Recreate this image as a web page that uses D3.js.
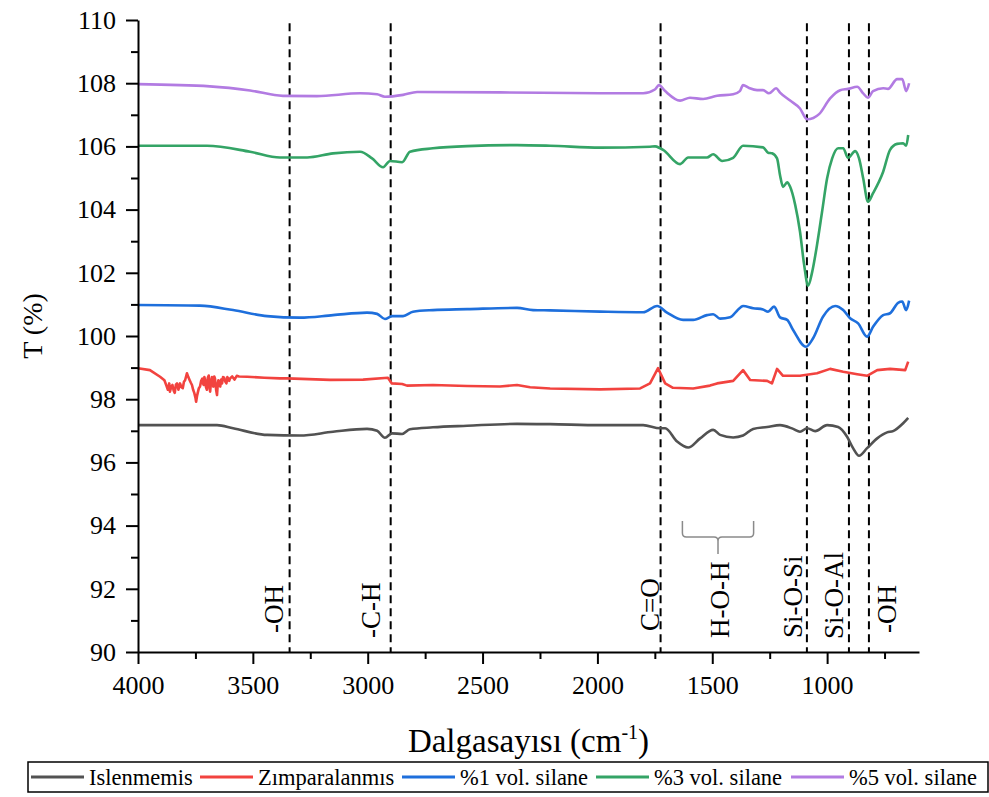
<!DOCTYPE html>
<html>
<head>
<meta charset="utf-8">
<script src="https://cdn.jsdelivr.net/npm/d3@7"></script>
<style>
  body { margin: 0; background: #fff; }
  svg { display: block; }
  text { font-family: "Liberation Serif", "Times New Roman", serif; fill: #000; }
</style>
</head>
<body>
<svg id="chart" width="989" height="797"></svg>
<script>
// FTIR spectra: [wavenumber (cm-1), transmittance (%)]
const islenmemis = [
  [4000,97.18],[3656,97.18],[3586,97.08],[3438,96.87],[3295,96.85],[3151,96.97],[3003,97.06],
  [2959,97.0],[2925,96.78],[2894,96.92],[2850,96.90],[2816,97.05],[2716,97.11],[2567,97.16],
  [2350,97.22],[2206,97.21],[1988,97.18],[1801,97.18],[1727,97.08],[1705,97.08],[1653,96.66],
  [1605,96.47],[1553,96.76],[1496,97.03],[1466,96.87],[1409,96.79],[1366,96.85],[1322,97.06],
  [1261,97.12],[1205,97.18],[1148,97.06],[1118,96.97],[1087,97.08],[1052,96.99],[1000,97.18],
  [952,97.12],[913,96.81],[887,96.45],[861,96.21],[826,96.45],[782,96.76],[739,96.95],
  [713,96.99],[669,97.24],[647,97.41]
];
const zimparalanmis = [
  [4000,98.98],[3948,98.92],[3904,98.71],[3885,98.6],[3876,98.42],[3870,98.3],[3864,98.5],
  [3861,98.24],[3855,98.4],[3850,98.45],[3845,98.28],[3840,98.2],[3835,98.46],[3830,98.5],
  [3824,98.3],[3817,98.5],[3811,98.38],[3805,98.35],[3800,98.55],[3795,98.6],[3787,98.82],
  [3781,98.7],[3775,98.6],[3770,98.52],[3765,98.45],[3760,98.3],[3755,98.2],[3750,98.05],
  [3747,97.92],[3743,98.1],[3740,98.2],[3735,98.35],[3730,98.40],[3725,98.58],[3720,98.65],
  [3717,98.5],[3714,98.45],[3711,98.7],[3708,98.61],[3704,98.38],[3700,98.3],[3696,98.68],
  [3692,98.75],[3689,98.4],[3686,98.24],[3682,98.55],[3678,98.7],[3675,98.48],[3672,98.4],
  [3668,98.72],[3665,98.66],[3662,98.45],[3660,98.3],[3656,98.13],[3653,98.45],[3650,98.6],
  [3646,98.52],[3642,98.4],[3638,98.62],[3634,98.5],[3630,98.7],[3625,98.68],[3620,98.56],
  [3615,98.5],[3611,98.7],[3607,98.65],[3603,98.58],[3599,98.66],[3590,98.72],[3580,98.62],
  [3570,98.74],[3560,98.72],[3525,98.71],[3450,98.68],[3382,98.66],[3351,98.66],[3164,98.61],
  [3020,98.62],[2912,98.68],[2895,98.5],[2850,98.48],[2829,98.43],[2716,98.45],[2567,98.42],
  [2424,98.40],[2350,98.45],[2293,98.38],[2206,98.34],[1988,98.31],[1814,98.34],[1771,98.5],
  [1736,98.98],[1705,98.5],[1671,98.36],[1583,98.34],[1510,98.43],[1479,98.5],[1409,98.58],
  [1366,98.92],[1335,98.61],[1261,98.58],[1240,98.5],[1218,98.96],[1192,98.74],[1118,98.74],
  [1044,98.82],[987,98.96],[930,98.87],[869,98.79],[826,98.74],[782,98.92],[726,98.96],
  [660,98.92],[647,99.19]
];
const silane1 = [
  [4000,100.98],[3730,100.96],[3586,100.82],[3438,100.63],[3295,100.58],[3151,100.66],[3003,100.74],
  [2959,100.70],[2925,100.54],[2894,100.63],[2846,100.63],[2803,100.77],[2716,100.82],[2567,100.85],
  [2350,100.89],[2280,100.82],[2206,100.81],[1988,100.77],[1801,100.75],[1740,100.95],[1697,100.74],
  [1627,100.51],[1583,100.51],[1523,100.66],[1496,100.69],[1466,100.55],[1422,100.59],[1392,100.80],
  [1366,100.95],[1322,100.88],[1279,100.84],[1257,100.77],[1231,100.93],[1205,100.59],[1174,100.51],
  [1148,100.19],[1092,99.66],[1061,99.93],[1018,100.61],[965,100.95],[930,100.82],[900,100.56],
  [865,100.40],[826,99.98],[800,100.29],[756,100.66],[726,100.72],[691,101.05],[673,101.09],
  [656,100.82],[643,101.12]
];
const silane3 = [
  [4000,106.02],[3700,106.02],[3512,105.83],[3382,105.65],[3264,105.65],[3151,105.78],[3033,105.83],
  [2981,105.62],[2933,105.34],[2903,105.54],[2850,105.50],[2816,105.83],[2716,105.94],[2567,106.01],
  [2350,106.04],[2206,106.02],[1988,105.96],[1771,105.99],[1749,106.0],[1727,105.94],[1714,105.89],
  [1640,105.44],[1605,105.65],[1523,105.65],[1496,105.75],[1457,105.54],[1409,105.64],[1366,106.02],
  [1279,105.97],[1257,105.80],[1240,105.78],[1218,105.62],[1205,105.09],[1192,104.72],[1174,104.86],
  [1161,104.72],[1139,104.15],[1118,103.3],[1100,102.25],[1083,101.59],[1065,102.03],[1044,102.88],
  [1022,103.93],[1000,104.99],[978,105.62],[952,105.94],[930,105.94],[909,105.64],[878,105.85],
  [861,105.62],[843,104.99],[822,104.25],[800,104.52],[756,105.2],[726,105.89],[695,106.08],
  [669,106.1],[656,106.02],[647,106.36]
];
const silane5 = [
  [4000,107.97],[3687,107.90],[3512,107.77],[3369,107.6],[3221,107.59],[3033,107.68],[2959,107.65],
  [2925,107.57],[2846,107.63],[2785,107.72],[2424,107.71],[1988,107.68],[1801,107.68],[1750,107.80],
  [1732,107.94],[1705,107.75],[1640,107.45],[1597,107.54],[1540,107.50],[1479,107.60],[1409,107.65],
  [1380,107.75],[1366,107.94],[1340,107.85],[1305,107.78],[1279,107.78],[1253,107.68],[1222,107.84],
  [1205,107.70],[1161,107.45],[1118,107.20],[1087,106.86],[1060,106.90],[1035,107.02],[987,107.52],
  [943,107.78],[909,107.82],[869,107.89],[843,107.68],[822,107.54],[800,107.75],[756,107.84],
  [735,107.82],[695,108.13],[673,108.13],[656,107.75],[643,108.0]
];

const seriesNames = ["Islenmemis", "Zımparalanmıs", "%1 vol. silane", "%3 vol. silane", "%5 vol. silane"];
const seriesData = [islenmemis, zimparalanmis, silane1, silane3, silane5];
const seriesColors = ["#525252", "#f2433f", "#1e6fdc", "#34a466", "#b27be2"];

// band assignments (dashed guides) and their labels
const bandLines = [3340, 2900, 1725, 1088, 905, 818];
const bandLabels = ["-OH", "-C-H", "C=O", "H-O-H", "Si-O-Si", "Si-O-Al", "-OH"];
const bandLabelWn = [3408, 2985, 1771, 1466, 1148, 970, 739];
const bracketWn = [1630, 1320];

const xTicks = [4000, 3500, 3000, 2500, 2000, 1500, 1000];
const xMinor = [3750, 3250, 2750, 2250, 1750, 1250, 750];
const yTicks = [90, 92, 94, 96, 98, 100, 102, 104, 106, 108, 110];
const yMinor = [91, 93, 95, 97, 99, 101, 103, 105, 107, 109];

const svg = d3.select("#chart");
svg.append("rect").attr("width", 989).attr("height", 797).attr("fill", "#fff");

const x = d3.scaleLinear().domain([4000, 600]).range([138, 919]);
const y = d3.scaleLinear().domain([90, 110]).range([652, 20]);

// dashed band guides
svg.append("g").selectAll("line").data(bandLines).join("line")
  .attr("x1", d => x(d)).attr("x2", d => x(d))
  .attr("y1", y(109.9)).attr("y2", y(90))
  .attr("stroke", "#000").attr("stroke-width", 2).attr("stroke-dasharray", "8,5");

// spectra
const line = d3.line().x(d => x(d[0])).y(d => y(d[1]));
seriesData.forEach((data, i) => {
  svg.append("path").datum(data)
    .attr("fill", "none")
    .attr("stroke", seriesColors[i])
    .attr("stroke-width", 2.6)
    .attr("stroke-linejoin", "round")
    .attr("d", line.curve(i === 1 ? d3.curveLinear : d3.curveMonotoneX));
});

// axes
const serif = "'Liberation Serif', 'Times New Roman', serif";
const yAxis = svg.append("g").attr("transform", `translate(${x(4000)},0)`)
  .call(d3.axisLeft(y).tickValues(yTicks).tickSize(12).tickSizeOuter(0).tickPadding(10).tickFormat(d3.format("d")));
svg.append("g").attr("transform", `translate(${x(4000)},0)`)
  .call(d3.axisLeft(y).tickValues(yMinor).tickSize(7).tickFormat(""))
  .call(g => g.select(".domain").remove());
const xAxis = svg.append("g").attr("transform", `translate(0,${y(90)})`)
  .call(d3.axisBottom(x).tickValues(xTicks).tickSize(12).tickSizeOuter(0).tickPadding(12).tickFormat(d3.format("d")));
svg.append("g").attr("transform", `translate(0,${y(90)})`)
  .call(d3.axisBottom(x).tickValues(xMinor).tickSize(7).tickFormat(""))
  .call(g => g.select(".domain").remove());

svg.selectAll(".tick line, .domain").attr("stroke", "#000").attr("stroke-width", 2);
[yAxis, xAxis].forEach(g => g.attr("font-family", serif).selectAll("text")
  .style("font-family", serif).style("font-size", "26px").attr("fill", "#000"));

// axis titles
const xTitle = svg.append("text")
  .attr("x", (x(4000) + x(600)) / 2).attr("y", 752)
  .attr("text-anchor", "middle").style("font-size", "33px");
xTitle.append("tspan").text("Dalgasayısı (cm");
xTitle.append("tspan").attr("dy", -13).style("font-size", "20px").text("-1");
xTitle.append("tspan").attr("dy", 13).text(")");

svg.append("text")
  .attr("transform", `translate(42,${(y(90) + y(110)) / 2 - 10}) rotate(-90)`)
  .attr("text-anchor", "middle").style("font-size", "28px").text("T (%)");

// band labels, rotated
const bandLabelLift = [19, 14, 21, 14, 14, 13, 19];
svg.append("g").selectAll("text").data(bandLabels).join("text")
  .attr("transform", (d, i) => `translate(${x(bandLabelWn[i])},${y(90) - bandLabelLift[i]}) rotate(-90)`)
  .attr("dominant-baseline", "central")
  .style("font-size", "27px")
  .text(d => d);

// brace over the H-O-H region
const bx0 = x(bracketWn[0]), bx1 = x(bracketWn[1]), bxm = (bx0 + bx1) / 2;
const bTop = 521, bMid = 537, bStem = 554;
svg.append("path")
  .attr("d", `M${bx0},${bTop} L${bx0},${bMid - 4} Q${bx0},${bMid} ${bx0 + 4},${bMid}
              L${bxm - 4},${bMid} Q${bxm},${bMid} ${bxm},${bMid + 4} L${bxm},${bStem}
              M${bxm},${bMid + 4} Q${bxm},${bMid} ${bxm + 4},${bMid} L${bx1 - 4},${bMid}
              Q${bx1},${bMid} ${bx1},${bMid - 4} L${bx1},${bTop}`)
  .attr("fill", "none").attr("stroke", "#8a8a8a").attr("stroke-width", 1.5);

// legend
const legend = svg.append("g");
const legX = 28, legY = 762, legW = 960, legH = 30;
const legSampleX = [31, 200, 402, 596, 791];
const legSampleLen = 53;
legend.append("rect").attr("x", legX).attr("y", legY).attr("width", legW).attr("height", legH)
  .attr("fill", "#fff").attr("stroke", "#000").attr("stroke-width", 1.5);
seriesNames.forEach((name, i) => {
  const sx = legSampleX[i];
  legend.append("line").attr("x1", sx).attr("x2", sx + legSampleLen)
    .attr("y1", legY + legH / 2).attr("y2", legY + legH / 2)
    .attr("stroke", seriesColors[i]).attr("stroke-width", 3);
  legend.append("text").attr("x", sx + legSampleLen + 5).attr("y", legY + legH / 2)
    .attr("dominant-baseline", "central").style("font-size", "22.5px").text(name);
});
</script>
</body>
</html>
